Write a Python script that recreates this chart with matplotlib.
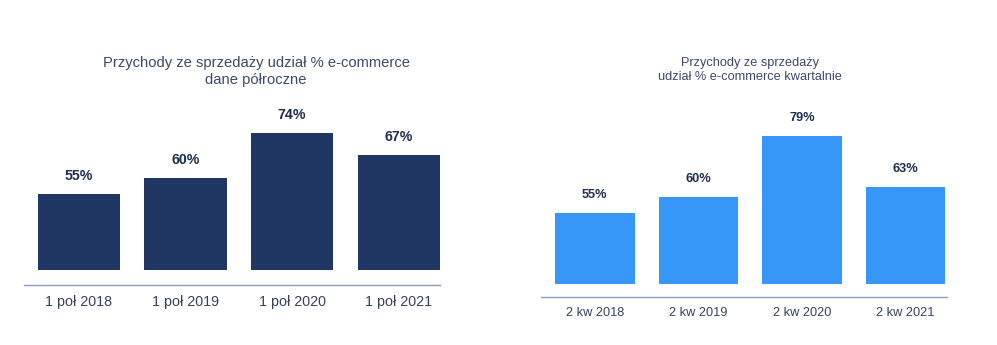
import matplotlib.pyplot as plt
import numpy as np

plt.rcParams['font.family'] = ['Liberation Sans', 'DejaVu Sans']

# udział e-commerce w przychodach
half_labels = ['1 poł 2018', '1 poł 2019', '1 poł 2020', '1 poł 2021']
half_values = [55, 60, 74, 67]
quarter_labels = ['2 kw 2018', '2 kw 2019', '2 kw 2020', '2 kw 2021']
quarter_values = [55, 60, 79, 63]

navy = '#213763'
blue = '#3797f9'
label_col = '#1f2d4f'
tick_col = '#34405e'
spine_col = '#8d9cbd'

fig = plt.figure(figsize=(9.97, 3.45), dpi=100)


def draw(ax, labels, values, color, ylo, xlim, outward, fs_tick, fs_val):
    x = np.arange(len(values))
    bars = ax.bar(x, values, width=0.77, color=color)
    ax.set_ylim(ylo, 90)
    ax.set_xlim(*xlim)
    for b, v in zip(bars, values):
        ax.annotate(f'{v}%', (b.get_x() + b.get_width() / 2, v),
                    xytext=(0, 13), textcoords='offset points',
                    ha='center', va='center', fontsize=fs_val,
                    fontweight='bold', color=label_col)
    for s in ['top', 'left', 'right']:
        ax.spines[s].set_visible(False)
    ax.spines['bottom'].set_position(('outward', outward))
    ax.spines['bottom'].set_color(spine_col)
    ax.spines['bottom'].set_linewidth(1.0)
    ax.set_yticks([])
    ax.set_xticks(x)
    ax.set_xticklabels(labels, fontsize=fs_tick, color=tick_col)
    ax.tick_params(axis='x', length=0, pad=7)


ax1 = fig.add_axes([0.0241, 0.2174, 0.4173, 0.547])
draw(ax1, half_labels, half_values, navy, 31.25, (-0.516, 3.39), 10.8, 10.3, 10.2)

ax2 = fig.add_axes([0.5426, 0.1768, 0.4072, 0.532])
draw(ax2, quarter_labels, quarter_values, blue, 33, (-0.52, 3.40), 9.4, 9.2, 9.2)

fig.text(0.2568, 0.793, 'Przychody ze sprzedaży udział % e-commerce\ndane półroczne',
         ha='center', va='center', fontsize=10.6, color='#3d4868', linespacing=1.2)
fig.text(0.752, 0.796, 'Przychody ze sprzedaży\nudział % e-commerce kwartalnie',
         ha='center', va='center', fontsize=9.2, color='#3d4868', linespacing=1.2)

fig.savefig('out.png', dpi=100)
